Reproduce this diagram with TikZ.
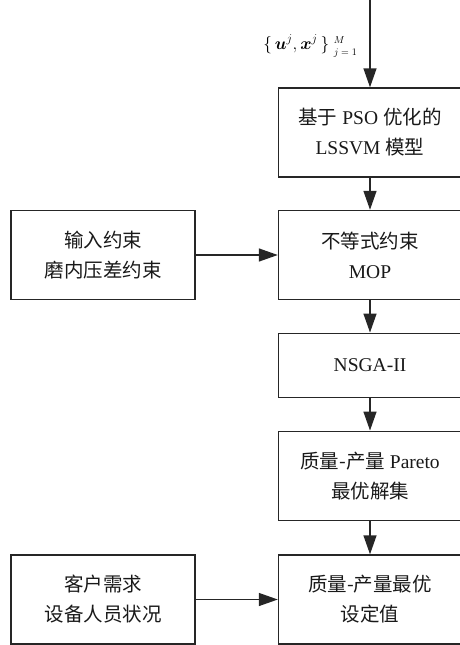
\documentclass[tikz,border=0pt]{standalone}
\usepackage{amsmath}
\usepackage{bm}
\usepackage{fontspec}
\setmainfont{Liberation Serif}
\newfontfamily\cjk{Noto Sans CJK SC}
\usetikzlibrary{arrows.meta,positioning}
\begin{document}
\begin{tikzpicture}[x=1pt,y=-1pt,
  box/.style={draw=black!85,line width=1.4pt,minimum width=183pt,inner sep=0pt,
    align=center,font=\fontsize{19.5}{30}\selectfont,text=black!90},
  conn/.style={draw=black!85,line width=1.4pt,-{Triangle[length=19pt,width=13pt]}}]
\useasboundingbox (0,0) rectangle (460,645);
\node[box,minimum height=89pt] (pso) at (370,132.5) {{\cjk 基于} PSO {\cjk 优化的}\\LSSVM {\cjk 模型}};
\node[box,minimum height=89pt] (mop) at (370,255) {{\cjk 不等式约束}\\MOP};
\node[box,minimum height=89pt,minimum width=184pt] (inp) at (103,255) {{\cjk 输入约束}\\{\cjk 磨内压差约束}};
\node[box,minimum height=64.5pt] (nsga) at (370,365.5) {NSGA-II};
\node[box,minimum height=89.5pt] (par) at (370,476) {{\cjk 质量-产量} Pareto\\{\cjk 最优解集}};
\node[box,minimum height=89pt] (opt) at (370,599.5) {{\cjk 质量-产量最优}\\{\cjk 设定值}};
\node[box,minimum height=89pt,minimum width=184pt] (cus) at (103,599.5) {{\cjk 客户需求}\\{\cjk 设备人员状况}};
\coordinate (top) at (370,0);
\node[anchor=east,inner sep=0pt,font=\fontsize{16.5}{18}\selectfont] (lbl) at (357,46)
  {$\{\,\bm{u}^j,\bm{x}^j\,\}$\;\rlap{\raisebox{6pt}{\fontsize{10}{11}\selectfont$M$}}\raisebox{-6pt}{\fontsize{10}{11}\selectfont$j=1$}};
\draw[conn] (top) -- (pso.north);
\draw[conn] (pso) -- (mop);
\draw[conn] (inp) -- (mop);
\draw[conn] (mop) -- (nsga);
\draw[conn] (nsga) -- (par);
\draw[conn] (par) -- (opt);
\draw[conn] (cus) -- (opt);
\end{tikzpicture}
\end{document}
